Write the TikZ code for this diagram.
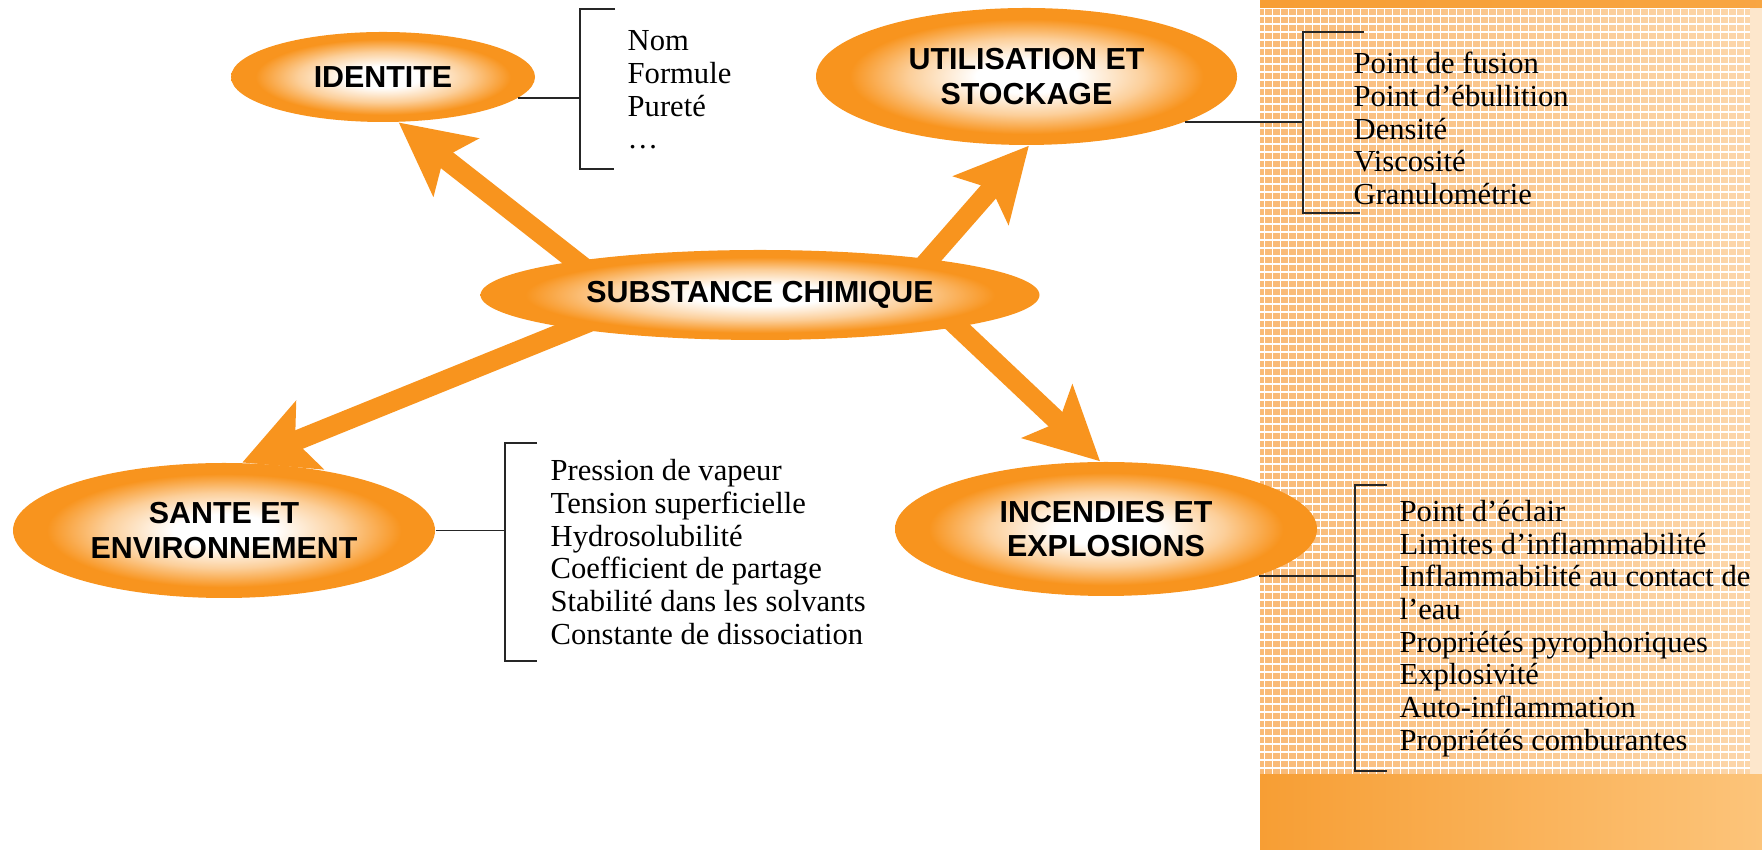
\documentclass[tikz,border=0pt]{standalone}
\usepackage{fontspec}
\setmainfont{Liberation Serif}
\setsansfont{Liberation Sans}
\usetikzlibrary{shapes.geometric,arrows.meta}
\definecolor{chemor}{RGB}{248,148,30}
\definecolor{panelL}{RGB}{249,186,118}
\definecolor{panelR}{RGB}{252,214,170}
\definecolor{stripL}{RGB}{247,158,52}
\definecolor{stripR}{RGB}{252,196,122}
\pgfdeclareradialshading{glow}{\pgfpoint{0bp}{0bp}}{color(0bp)=(white); color(6bp)=(white); color(14bp)=(chemor!45!white); color(21bp)=(chemor); color(50bp)=(chemor)}
\pgfdeclarelayer{bg}
\pgfsetlayers{bg,main}
\begin{document}
\begin{tikzpicture}[
  bubble/.style={ellipse,shade,shading=glow,inner sep=0pt,align=center,font=\sffamily\bfseries\fontsize{8.65pt}{9.9pt}\selectfont},
  fatarrow/.style={chemor,line width=0.2cm,-{Stealth[length=0.72cm,width=0.72cm,inset=0.15cm]}},
  brace/.style={line width=0.5pt,black!85},
  props/.style={anchor=west,inner sep=0pt,align=left,font=\fontsize{8.7pt}{9.3pt}\selectfont}]
\useasboundingbox(0,0) rectangle (17.62,-8.50);
% grid panel on the right
\fill[left color=panelL,right color=panelR](12.60,-0.08) rectangle (17.50,-7.75);
\draw[white,line width=0.3pt,step=0.08](12.60,-7.75) grid (17.50,-0.08);
\fill[panelR!60!white](17.50,-0.08) rectangle (17.62,-7.75);
\fill[left color=stripL,right color=stripL!80!stripR](12.60,0) rectangle (17.62,-0.08);
\fill[left color=stripL,right color=stripR](12.60,-7.75) rectangle (17.62,-8.50);
% bubbles
\draw(7.60,-2.95)node[bubble,minimum width=5.59cm,minimum height=0.90cm](sub){SUBSTANCE CHIMIQUE};
\draw(3.83,-0.77)node[bubble,minimum width=3.04cm,minimum height=0.90cm](ident){IDENTITE};
\draw(10.265,-0.765)node[bubble,minimum width=4.21cm,minimum height=1.37cm](util){UTILISATION ET\\STOCKAGE};
\draw(2.24,-5.305)node[bubble,minimum width=4.22cm,minimum height=1.35cm](sante){SANTE ET\\ENVIRONNEMENT};
\draw(11.06,-5.29)node[bubble,minimum width=4.22cm,minimum height=1.34cm](incend){INCENDIES ET\\EXPLOSIONS};
\begin{pgfonlayer}{bg}
\draw[fatarrow]([xshift=-1.41cm]sub.center) -- (ident.-71);
\draw[fatarrow]([xshift=1.38cm]sub.center) -- (util.-88);
\draw[fatarrow]([xshift=-1.04cm]sub.center) -- (sante.75);
\draw[fatarrow]([xshift=1.64cm]sub.center) -- (incend.95);
\end{pgfonlayer}
% property lists
\draw(6.27,-0.90)node[props](idlist){Nom\\Formule\\Pureté\\\ldots};
\draw(13.53,-1.285)node[props](utlist){Point de fusion\\Point d’ébullition\\Densité\\Viscosité\\Granulométrie};
\draw(5.50,-5.52)node[props](salist){Pression de vapeur\\Tension superficielle\\Hydrosolubilité\\Coefficient de partage\\Stabilité dans les solvants\\Constante de dissociation};
\draw(13.99,-6.285)node[props](inlist){Point d’éclair\\Limites d’inflammabilité\\Inflammabilité au contact de\\l’eau\\Propriétés pyrophoriques\\Explosivité\\Auto-inflammation\\Propriétés comburantes};
% brackets
\coordinate(idspine) at (5.80,-0.99);
\coordinate(utspine) at (13.03,-1.21);
\coordinate(saspine) at (5.05,-5.30);
\coordinate(inspine) at (13.55,-5.76);
\draw[brace](6.15,-0.09) -- (5.80,-0.09) -- (5.80,-1.69) -- (6.14,-1.69);
\draw[brace](ident.-9) -- (ident.-9 -| idspine);
\draw[brace](13.64,-0.32) -- (13.03,-0.32) -- (13.03,-2.13) -- (13.60,-2.13);
\draw[brace](util.-16) -- (util.-16 -| utspine);
\draw[brace](5.37,-4.43) -- (5.05,-4.43) -- (5.05,-6.61) -- (5.37,-6.61);
\draw[brace](sante.east) -- (sante.east -| saspine);
\draw[brace](13.87,-4.85) -- (13.55,-4.85) -- (13.55,-7.71) -- (13.87,-7.71);
\draw[brace](incend.-17) -- (incend.-17 -| inspine);
\end{tikzpicture}
\end{document}
